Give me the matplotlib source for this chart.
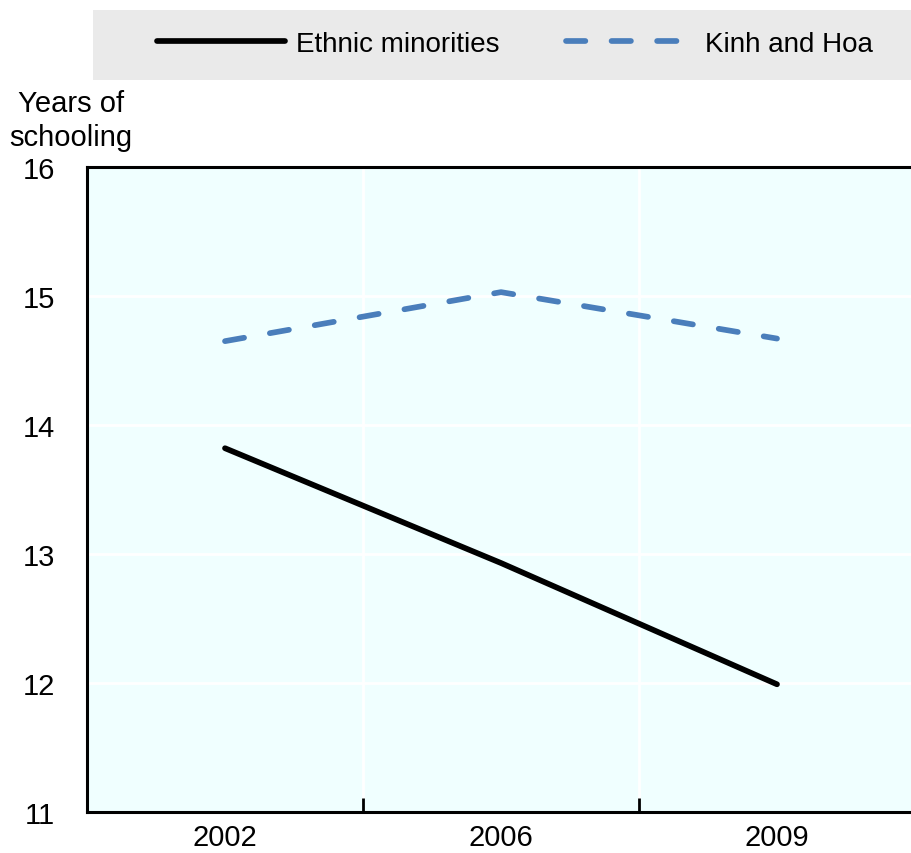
import matplotlib
matplotlib.use("Agg")
import matplotlib.pyplot as plt
from matplotlib.patches import Rectangle
from matplotlib.ticker import FixedLocator

# data
years = ["2002", "2006", "2009"]
ethnic_minorities = [13.82, 12.93, 11.99]
kinh_and_hoa = [14.65, 15.03, 14.67]

plt.rcParams['font.family'] = ['Liberation Sans', 'DejaVu Sans']
plt.rcParams['font.size'] = 20

W, H = 911, 854
fig = plt.figure(figsize=(W / 100, H / 100), dpi=100)

# axes: left spine at x=87, top at y=168, bottom at y=813, right edge runs off the picture
ax = fig.add_axes([87 / W, 1 - 813 / H, 828 / W, 645 / H])
ax.set_facecolor('#F0FFFF')

x = list(range(len(years)))
ax.plot(x, ethnic_minorities, color='black', lw=4.1, solid_capstyle='round',
        label='Ethnic minorities', zorder=3)
ax.plot(x, kinh_and_hoa, color='#4A7EBB', lw=4.1, dashes=(3.4, 4.6),
        dash_capstyle='round', label='Kinh and Hoa', zorder=3)

ax.set_xlim(-0.5, 2.5)
ax.set_ylim(11, 16)
ax.set_yticks([11, 12, 13, 14, 15, 16])
ax.set_xticks(x)
ax.set_xticklabels(years)
ax.xaxis.set_minor_locator(FixedLocator([0.5, 1.5]))

ax.tick_params(axis='x', which='major', length=0, pad=8, labelsize=21)
ax.tick_params(axis='x', which='minor', direction='in', length=10, width=2, color='black')
ax.tick_params(axis='y', length=0, pad=23, labelsize=21)

# white grid lines
ax.grid(axis='y', color='white', lw=2, zorder=1)
ax.grid(axis='x', which='minor', color='white', lw=2, zorder=1)
ax.set_axisbelow(True)

for side in ['left', 'bottom', 'top']:
    ax.spines[side].set_linewidth(2.2)
    ax.spines[side].set_color('black')
ax.spines['right'].set_visible(False)

fig.text(71 / W, 1 - 121 / H, 'Years of\nschooling', ha='center', va='center',
         linespacing=1.3, fontsize=21)

# legend band
fig.patches.append(Rectangle((93 / W, 1 - 81 / H), 1, 70 / H, transform=fig.transFigure,
                             facecolor='#EAEAEA', edgecolor='none', zorder=0))
fig.legend(loc='center', bbox_to_anchor=(515 / W, 1 - 45 / H), ncol=2, frameon=False,
           handlelength=4.6, handletextpad=0.4, columnspacing=2.4)

fig.savefig('out.png', dpi=100)
